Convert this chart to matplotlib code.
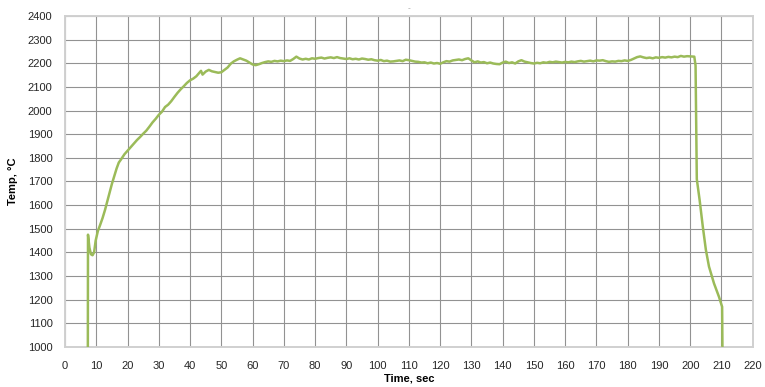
import matplotlib
matplotlib.use("Agg")
import matplotlib.pyplot as plt

# temperature trace, time in seconds, temperature in deg C
time_s = [
    7.3, 7.35, 7.8, 8.3, 8.8, 9.3, 9.8, 10.5, 11.2, 12.0, 12.8, 13.5, 14.2, 15.0,
    15.7, 16.5, 17.2, 18.0, 19, 20, 21, 22, 23, 24, 25, 26, 27, 28, 29, 30,
    31, 32, 33, 34, 35, 36, 37, 38, 39, 40, 41, 42, 43, 43.5, 44, 45, 46, 47,
    48, 49, 50, 51, 52, 53, 54, 55, 56, 57, 58, 59, 60, 61, 62, 63, 64, 65,
    66, 67, 68, 69, 70, 71, 72, 73, 74, 75, 76, 77, 78, 79, 80, 81, 82, 83,
    84, 85, 86, 87, 88, 89, 90, 91, 92, 93, 94, 95, 96, 97, 98, 99, 100, 101,
    102, 103, 104, 105, 106, 107, 108, 109, 110, 111, 112, 113, 114, 115, 116,
    117, 118, 119, 120, 121, 122, 123, 124, 125, 126, 127, 128, 129, 130, 131,
    132, 133, 134, 135, 136, 137, 138, 139, 140, 141, 142, 143, 144, 145, 146,
    147, 148, 149, 150, 151, 152, 153, 154, 155, 156, 157, 158, 159, 160, 161,
    162, 163, 164, 165, 166, 167, 168, 169, 170, 171, 172, 173, 174, 175, 176,
    177, 178, 179, 180, 181, 182, 183, 184, 185, 186, 187, 188, 189, 190, 191,
    192, 193, 194, 195, 196, 197, 198, 199, 200, 201.3, 201.7, 202.1, 203, 204,
    205, 206, 207.6, 209.2, 210.2, 210.3,
]
temp_c = [
    1000, 1475, 1420, 1392, 1388, 1400, 1450, 1490, 1515, 1545, 1580, 1615, 1650, 1690,
    1720, 1755, 1780, 1795, 1815, 1830, 1845, 1860, 1875, 1888, 1902, 1915, 1932, 1950, 1965, 1982,
    1995, 2015, 2025, 2040, 2058, 2075, 2090, 2103, 2117, 2128, 2135, 2145, 2160, 2168, 2152, 2165, 2172, 2166,
    2163, 2160, 2162, 2172, 2182, 2198, 2208, 2215, 2221, 2216, 2211, 2203, 2195, 2192, 2196, 2201, 2205, 2208,
    2206, 2210, 2208, 2211, 2209, 2212, 2210, 2218, 2228, 2220, 2216, 2219, 2216, 2221, 2219, 2222, 2224, 2220,
    2223, 2225, 2222, 2226, 2222, 2220, 2218, 2221, 2217, 2219, 2216, 2220, 2218, 2215, 2217, 2213, 2211, 2214,
    2209, 2211, 2207, 2208, 2210, 2212, 2209, 2215, 2213, 2210, 2207, 2206, 2203, 2204, 2200,
    2203, 2199, 2201, 2198, 2204, 2209, 2207, 2212, 2214, 2216, 2213, 2218, 2221, 2212, 2204,
    2208, 2203, 2205, 2200, 2203, 2199, 2197, 2196, 2203, 2207, 2201, 2204, 2199, 2208, 2213,
    2207, 2204, 2201, 2199, 2202, 2200, 2204, 2202, 2206, 2204, 2207, 2205, 2203, 2206, 2204,
    2207, 2205, 2208, 2210, 2207, 2209, 2211, 2208, 2212, 2211, 2213, 2209, 2206, 2208, 2207,
    2210, 2209, 2212, 2210, 2214, 2220, 2226, 2229, 2225, 2222, 2224, 2221, 2225, 2223, 2226,
    2224, 2227, 2225, 2228, 2226, 2231, 2228, 2230, 2229, 2228, 2190, 1710, 1622, 1511,
    1411, 1340, 1269, 1212, 1170, 1000,
]

x_ticks = list(range(0, 221, 10))
y_ticks = list(range(1000, 2401, 100))

plt.rcParams["font.family"] = ["Liberation Sans", "DejaVu Sans"]

fig = plt.figure(figsize=(7.65, 3.87), dpi=100)
ax = fig.add_axes([0.085, 0.1034, 0.899, 0.8553])

ax.plot(time_s, temp_c, color="#9BBB59", lw=1.8, solid_joinstyle="round", zorder=3)

ax.set_xlim(0, 220)
ax.set_ylim(1000, 2400)
ax.set_xticks(x_ticks)
ax.set_yticks(y_ticks)
ax.grid(True, color="#929292", lw=0.8)
ax.set_axisbelow(True)
ax.tick_params(length=0, labelsize=8, colors="#262626")
ax.tick_params(axis="y", pad=9)
ax.tick_params(axis="x", pad=10)
for sp in ax.spines.values():
    sp.set_color("#d0d0d0")
    sp.set_linewidth(1.4)

ax.set_xlabel("Time, sec", fontsize=8, fontweight="bold", labelpad=2)
ax.set_ylabel("Temp, °C", fontsize=8, fontweight="bold", labelpad=7)
ax.set_title("-", fontsize=6, color="#a0a0a0", pad=4)

fig.savefig("out.png", dpi=100)
